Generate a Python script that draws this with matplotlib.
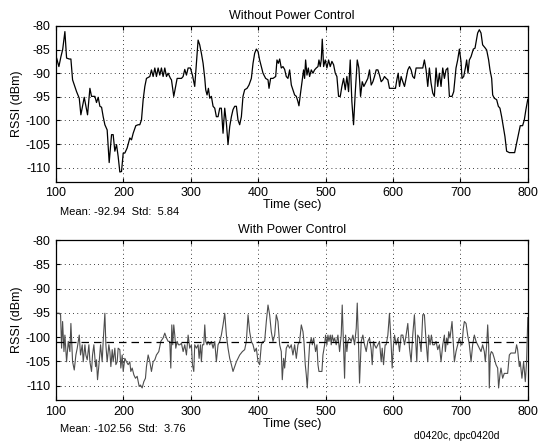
import numpy as np
import matplotlib
matplotlib.use('Agg')
import matplotlib.pyplot as plt

plt.rcParams['font.family'] = ['Liberation Sans', 'DejaVu Sans']
plt.rcParams['axes.unicode_minus'] = False

# RSSI trace without power control (time in sec, RSSI in dBm)
t_nopc = [100, 101, 104.4, 107.4, 110, 113.3, 115.8, 119.8, 122.2, 124.7, 128.1, 130.6,
          134.6, 137, 142, 146.9, 150.4, 152.8, 157.8, 160.2, 162.7, 165.2, 167.7, 170.1,
          172.6, 176, 179, 182.5, 184.9, 187.4, 189.9, 192.3, 194.8, 197.3, 199.8, 202.2,
          205.7, 209.6, 212.1, 214.6, 218.5, 222, 224.4, 226.9, 229.4, 231.9, 234.3, 239.3,
          241.7, 244.2, 246.7, 249.1, 251.6, 254.1, 256.5, 259, 261.5, 264, 266.4, 269.9,
          271.4, 274.8, 279.8, 286.2, 288.7, 291.1, 293.6, 296.1, 299.5, 302.5, 305.9, 310.9,
          313.3, 315.8, 318.3, 320.8, 322.2, 324.2, 326.2, 328.2, 330.6, 333.1, 335.6, 338,
          340.5, 343, 345.4, 347.9, 350.4, 352.9, 355.3, 357.8, 360.3, 362.7, 365.2, 367.7,
          370.1, 372.6, 375.1, 377.5, 380, 383.5, 386.4, 389.9, 392.4, 394.8, 397.3, 399.8,
          402.2, 404.7, 407.2, 411.1, 414.6, 416.1, 418.5, 422, 426, 427.9, 429.9, 431.9,
          434.3, 436.8, 439.3, 441.7, 444.2, 446.7, 449.2, 451.6, 454.1, 456.6, 459, 460.5,
          462.5, 465.5, 467.4, 468.9, 470.4, 472.4, 474.4, 476.3, 478.8, 481.3, 483.7, 486.2,
          488.7, 490.2, 492.1, 493.6, 495.1, 497.1, 499.5, 502, 504.5, 506.9, 509.4, 511.9,
          514.4, 516.8, 519.3, 521.8, 524.2, 526.7, 529.2, 531.6, 534.1, 536.6, 539, 541.5,
          544, 547, 549.4, 551.9, 554.4, 556.8, 559.3, 562.7, 565.2, 567.7, 570.2, 572.6,
          575.1, 577.6, 580, 582.5, 585, 587.4, 589.9, 592.4, 594.8, 599.8, 603.7, 605.7,
          607.7, 609.7, 612.1, 614.6, 617.1, 619.5, 622, 624.5, 626.9, 629.3, 631.8, 634.3,
          639.2, 644.2, 646.6, 649.1, 651.6, 654, 656.5, 659, 661.4, 663.9, 666.4, 668.8,
          671.3, 673.8, 676.3, 678.7, 681.2, 683.7, 687.6, 690.1, 693.5, 696, 698.5, 700.9,
          702.4, 704.9, 707.4, 709.3, 711.3, 713.3, 715.8, 719.2, 721.7, 725.6, 728.1, 730.6,
          733, 737, 739, 741.9, 743.9, 746.4, 747.9, 750.3, 753.8, 756.3, 758.7, 761.2,
          763.7, 766.1, 768.6, 772.6, 777.5, 780.5, 783.4, 786.4, 788.8, 792.3, 794.8, 797.2,
          800]
rssi_nopc = [-86.5, -86.8, -88.6, -86.5, -85, -81.2, -86.8, -87, -87, -91.4, -92.8, -93.9,
             -95.3, -98.8, -95.1, -98.8, -93.2, -94.9, -94.9, -96.2, -95.1, -97, -97.2, -99.2,
             -100.9, -102, -108.9, -103, -103, -106.5, -105.1, -107.6, -110.9, -110.8, -106.9, -106.9,
             -105.8, -103.7, -104.1, -102.7, -101.1, -100.9, -100.9, -99.9, -95.6, -92.8, -91.1, -90.7,
             -89.3, -90.7, -88.9, -90.7, -88.9, -90.4, -88.9, -90.7, -88.9, -90.7, -90, -91.1,
             -91.4, -94.9, -91.1, -91.1, -90.7, -89.2, -90.4, -88.9, -88.9, -90.4, -92.8, -83,
             -84, -85.8, -87.9, -91.1, -93.5, -94.6, -93.2, -95.3, -94.9, -97, -97.4, -99.2,
             -99.2, -97.4, -97.4, -102.7, -97.4, -100.6, -105.1, -101.3, -99.2, -97.7, -97, -97,
             -99.9, -100.9, -99.2, -94.9, -93.5, -93.2, -92.5, -91.1, -87.9, -85.8, -84.9, -85.4,
             -87.2, -88.6, -90, -91.1, -91.4, -93.2, -91.1, -91.1, -90.7, -87.2, -87.9, -87,
             -88.9, -88.6, -89.2, -90.7, -91.1, -89.3, -92.5, -93.5, -94.6, -94.9, -96, -96.9,
             -94.6, -91.4, -89.3, -91.1, -87.2, -90.4, -88.9, -90.7, -89.3, -90, -89.3, -88.9,
             -88.6, -87.2, -88.6, -87.2, -82.8, -88.6, -87.2, -88.9, -87.2, -88.6, -87.5, -88.2,
             -90, -90.7, -94.9, -94.9, -92.8, -91.1, -93.5, -90.7, -93.9, -87.2, -96, -100.9,
             -94.2, -87.2, -88.9, -94.9, -91.8, -92.8, -92.1, -91.1, -89.3, -92.5, -91.8, -90.7,
             -89.3, -89.3, -90.4, -91.8, -91.4, -90.7, -91.1, -91.4, -93.2, -93.2, -93.2, -91.4,
             -90, -92.8, -90.7, -91.8, -92.8, -91.1, -89.3, -88.6, -89.3, -90.7, -91.1, -88.9,
             -88.9, -88.9, -87.2, -89.3, -92.8, -88.9, -92.1, -94.2, -94.9, -88.9, -92.8, -90,
             -92.8, -88.9, -91.1, -89.3, -88.9, -94.9, -94.9, -93.9, -88.9, -87.2, -84.9, -87.5,
             -91.1, -90.7, -88.9, -87.2, -90, -87.2, -86.5, -84.9, -84.7, -81.5, -80.8, -81.5,
             -84, -84.7, -85.1, -87.2, -89.3, -91.1, -94.6, -95.3, -95.6, -97, -97.4, -99.2,
             -101.3, -103.4, -106.5, -106.8, -106.8, -106.8, -104.8, -102.7, -101.1, -101.1, -99.9, -97.7,
             -95.5]

# RSSI trace with power control
t_pc = [100, 101, 104.9, 106.9, 108.4, 109.9, 111.9, 113.3, 115.8, 118.3, 120.7, 122.2,
        124.7, 127.2, 129.6, 131.6, 134.6, 136.5, 139, 140.5, 143, 144.4, 146.4, 148.9,
        150.4, 152.8, 154.3, 156.3, 158.8, 160.2, 161.7, 164.2, 166.2, 168.6, 170.1, 172.6,
        174.1, 176, 178.5, 180, 181.5, 183.5, 184.9, 187.4, 188.9, 190.9, 192.3, 194.8,
        196.3, 198.3, 199.8, 202.2, 204.7, 207.2, 209.6, 211.1, 213.1, 215.6, 218, 220.5,
        223.5, 225.4, 227.9, 230.4, 232.8, 234.3, 236.8, 239.3, 241.7, 244.2, 246.7, 249.1,
        252.6, 255.6, 259, 261.5, 264, 266.4, 268.9, 270.4, 271.9, 273.3, 274.8, 276.3,
        277.8, 279.8, 281.7, 283.7, 286.2, 288.7, 291.1, 293.6, 296.1, 298.5, 301, 302.5,
        304.5, 305.9, 308.4, 310.9, 312.4, 314.3, 315.8, 317.3, 319.3, 320.8, 322.2, 324.2,
        325.7, 328.2, 330.6, 333.1, 335.6, 338, 340.5, 343, 345.4, 347.9, 350.4, 352.9,
        355.3, 357.8, 360.3, 362.7, 365.2, 367.7, 370.1, 372.6, 376.6, 380, 382.5, 385,
        387.4, 389.9, 392.4, 394.8, 397.3, 399.8, 402.2, 404.7, 407.2, 409.6, 412.1, 414.6,
        417, 419.5, 422, 424.5, 426.9, 429.4, 431.9, 434.3, 435.8, 437.8, 439.3, 441.7,
        444.2, 446.7, 449.1, 451.6, 454.1, 456.6, 459, 461.5, 464, 466.5, 467.9, 469.9,
        471.4, 472.9, 474.8, 476.3, 478.8, 480.3, 482.3, 483.7, 485.2, 487.2, 488.7, 490.2,
        492.6, 494.6, 496.1, 498.6, 500, 502, 503.5, 505, 507, 508.4, 509.9, 511.9,
        513.4, 515.8, 518.3, 520.8, 523.2, 524.7, 526.7, 528.2, 529.7, 531.6, 533.1, 535.6,
        538.1, 540.5, 543, 545.5, 547, 548.9, 550.4, 552.9, 555.3, 557.8, 560.3, 562.7,
        565.2, 567.7, 569.2, 571.1, 572.6, 575.1, 577.6, 580, 582.5, 584, 586, 588.4,
        589.9, 592.4, 594.8, 597.3, 598.8, 600.8, 602.3, 604.7, 607.2, 609.7, 612.1, 614.6,
        617.1, 619.5, 622, 624.5, 626.9, 629.3, 631.8, 633.3, 635.3, 636.7, 639.2, 641.7,
        644.2, 646.6, 649.1, 651.6, 653, 655, 657, 659, 661.4, 663.9, 666.4, 668.8,
        671.3, 673.8, 676.3, 677.7, 679.7, 681.2, 682.7, 684.6, 687.6, 689.6, 691.1, 693.5,
        696, 698.5, 700.9, 702.4, 704.4, 705.9, 708.4, 710.8, 713.3, 715.8, 718.2, 720.7,
        723.2, 725.6, 728.1, 730.6, 733, 735.5, 737, 739, 740.5, 741.9, 742.9, 744.4,
        745.9, 747.9, 750.3, 752.8, 755.3, 756.7, 758.7, 760.2, 762.7, 765.1, 767.6, 770.1,
        772.6, 775, 777.5, 781.4, 783.4, 784.9, 787.4, 788.8, 791.3, 793.8, 796.3, 798.2,
        800]
rssi_pc = [-95.1, -95.1, -95.1, -95.4, -102.3, -96.8, -103, -99.6, -105.1, -100.9, -103, -97.2,
           -105.1, -106.8, -103.7, -102.3, -99.6, -103.7, -101.6, -105.1, -101.6, -103.7, -104.7, -101.6,
           -105.1, -107.1, -103.7, -101.6, -106.1, -104.7, -108.8, -105.1, -101.6, -105.1, -100.9, -95.1,
           -101.6, -105.1, -101.6, -103, -106.1, -102.6, -105.1, -102.3, -105.7, -105.1, -102.3, -102.6,
           -106.4, -103.7, -107.1, -104.4, -105.1, -105.7, -105.1, -107.1, -106.4, -107.8, -108.5, -108.1,
           -110.2, -109.9, -110.5, -109.2, -108.5, -106.1, -103.7, -105.1, -107.1, -105.1, -104.7, -103.7,
           -103, -100.9, -100.2, -99.2, -100.2, -100.9, -100.9, -106.4, -97.5, -101.6, -97.5, -99.6,
           -102.3, -100.9, -101.6, -101.6, -101.3, -103, -101.6, -103.7, -99.6, -102.3, -101.6, -105.7,
           -107.1, -101.6, -102.3, -101.6, -104.4, -101.6, -105.1, -101.6, -101.6, -97.5, -100.9, -101.6,
           -100.9, -101.6, -100.9, -102.3, -100.9, -105.1, -101.6, -100.9, -99.6, -97.5, -95.1, -99.6,
           -102.3, -104.4, -105.7, -107.1, -106.1, -105.1, -104.4, -103.7, -103, -102.6, -100.9, -95.4,
           -98.9, -100.9, -101.6, -103, -102.3, -105.1, -105.7, -101.6, -100.9, -100.9, -96.8, -93.4,
           -95.4, -98.9, -100.9, -99.6, -95.4, -96.8, -101.6, -103, -108.8, -104.4, -106.4, -102.3,
           -101.6, -102.3, -101.6, -103.7, -101.6, -104.4, -101.6, -100.9, -97.5, -98.9, -100.9, -105.7,
           -107.8, -110.5, -105.1, -101.6, -100.2, -101.6, -100.2, -101.6, -103, -101.6, -105.7, -107.1,
           -107.1, -107.1, -103.7, -101.6, -99.6, -101.6, -99.6, -100.9, -99.6, -101.6, -99.6, -100.9,
           -100.2, -101.6, -99.6, -103, -99.6, -93.4, -102.3, -108.5, -99.6, -103, -100.9, -100.2,
           -100.9, -99.6, -101.6, -98.2, -93, -101.6, -109.5, -100.9, -99.6, -101.6, -103, -100.9,
           -100.2, -102.6, -105.7, -100.9, -101.6, -102.3, -101.6, -100.9, -105.1, -102.3, -105.7, -101.6,
           -101.6, -99.6, -95.1, -101.6, -106.4, -101.6, -99.6, -101.6, -100.2, -103, -99.6, -99.6,
           -101.6, -99.6, -97.2, -102.3, -105.1, -99.6, -95.4, -99.6, -105.1, -99.6, -100.2, -103,
           -95.4, -95.4, -100.9, -105.1, -99.6, -101.6, -99.6, -101.6, -101.6, -100.9, -102.6, -101.6,
           -105.1, -101.6, -99.6, -103, -100.2, -101.6, -98.9, -100.2, -96.8, -101.6, -105.1, -103,
           -101.6, -100.2, -101.6, -101.6, -98.2, -96.8, -97.2, -99.6, -101.6, -105.1, -101.6, -99.6,
           -100.9, -101.6, -102.3, -103, -101.6, -103, -105.1, -101.6, -97.5, -101.6, -110.5, -103.7,
           -103, -103.3, -104.4, -105.7, -106.4, -110.5, -107.8, -106.4, -108.5, -107.5, -107.5, -107.5,
           -103.7, -103.3, -103.3, -103.3, -101.6, -102.6, -106.1, -105.1, -108.5, -105.1, -109.2, -105.1,
           -96]

target_level = -101
xticks = [100, 200, 300, 400, 500, 600, 700, 800]
yticks = [-110, -105, -100, -95, -90, -85, -80]

fig = plt.figure(figsize=(5.43, 4.47), dpi=100)
ax1 = fig.add_axes([0.103, 0.593, 0.869, 0.349])
ax2 = fig.add_axes([0.103, 0.105, 0.869, 0.358])

def style(ax, title):
    ax.set_xlim(100, 800)
    ax.set_ylim(-113, -80)
    ax.set_xticks(xticks)
    ax.set_yticks(yticks)
    ax.grid(True, color='black', linestyle=(0, (1, 4)), linewidth=0.6)
    ax.tick_params(direction='in', top=True, right=True, labelsize=9, length=3, pad=4)
    ax.set_title(title, fontsize=9, pad=5)
    ax.set_xlabel('Time (sec)', fontsize=9, labelpad=0)
    ax.set_ylabel('RSSI (dBm)', fontsize=9, labelpad=2)
    for s in ax.spines.values():
        s.set_linewidth(0.9)

ax1.plot(t_nopc, rssi_nopc, color='black', lw=0.9)
style(ax1, 'Without Power Control')

ax2.plot(t_pc, rssi_pc, color='0.3', lw=0.8)
ax2.axhline(target_level, color='black', lw=0.9, linestyle=(0, (6, 4)))
style(ax2, 'With Power Control')

fig.text(0.11, 0.526, 'Mean: -92.94  Std:  5.84', fontsize=8, va='center')
fig.text(0.11, 0.040, 'Mean: -102.56  Std:  3.76', fontsize=8, va='center')
fig.text(0.762, 0.025, 'd0420c, dpc0420d', fontsize=7.5, va='center')

fig.savefig('out.png', dpi=100)
